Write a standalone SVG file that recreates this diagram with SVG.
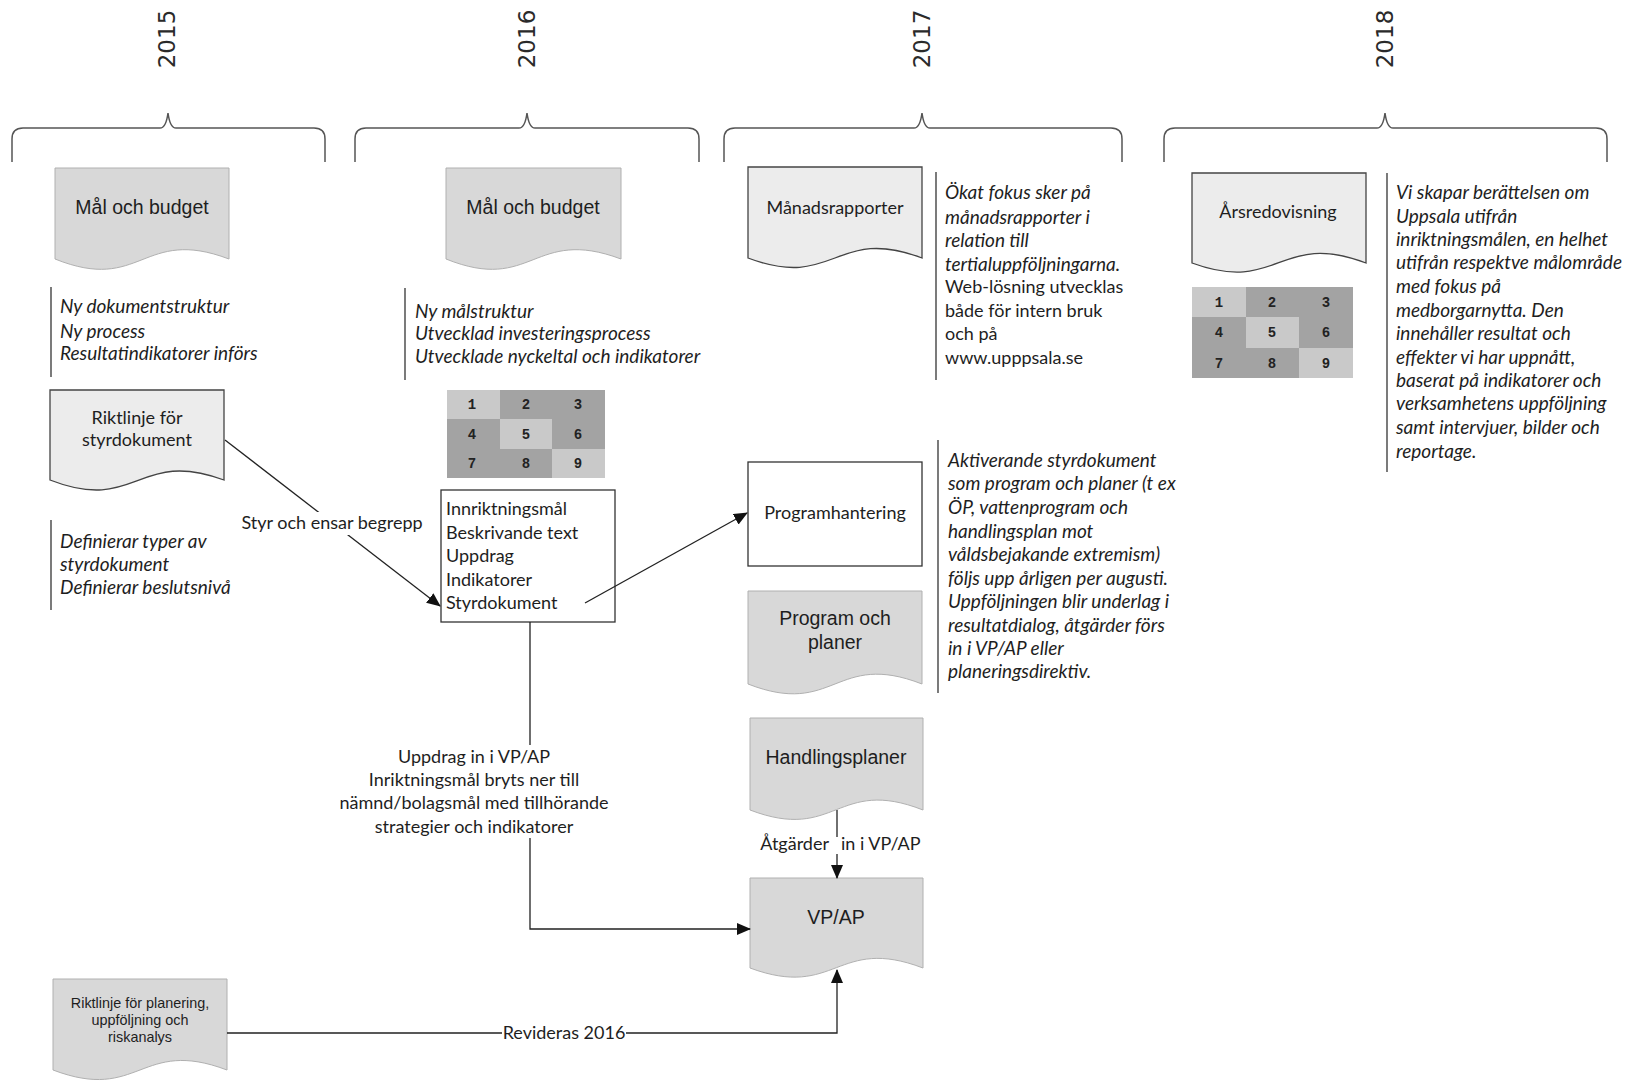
<svg xmlns="http://www.w3.org/2000/svg" width="1628" height="1084" viewBox="0 0 1628 1084">
<style>
.yr{font-family:"DejaVu Sans","Liberation Sans",sans-serif;font-size:23px;fill:#2a2a2a;text-anchor:middle}
.cal{font-family:Lato,"Liberation Sans",sans-serif;font-size:18px;fill:#1e1e1e}
.it{font-style:italic;font-size:19px}
.mid{text-anchor:middle}
.ar{font-family:"Liberation Sans",Arial,sans-serif;font-size:19.5px;fill:#1e1e1e;text-anchor:middle}
.ars{font-family:"Liberation Sans",Arial,sans-serif;font-size:14.4px;fill:#1e1e1e;text-anchor:middle}
.num{font-family:"Liberation Mono",monospace;font-weight:bold;font-size:14px;fill:#222;text-anchor:middle}
.brace{fill:none;stroke:#555;stroke-width:1.5}
.docg{fill:#d8d8d8;stroke:#b0b0b0;stroke-width:1}
.docl{fill:#ececec;stroke:#444;stroke-width:1.3}
.box{fill:#fff;stroke:#333;stroke-width:1.3}
.rule{stroke:#333;stroke-width:1.3}
.conn{fill:none;stroke:#222;stroke-width:1.3}
.bg{fill:#fff}
.lt{fill:#c9c9c9}
.dk{fill:#a3a3a3}
</style>
<defs>
<marker id="arr" markerWidth="14" markerHeight="12" refX="13" refY="6" orient="auto" markerUnits="userSpaceOnUse">
<path d="M0,0 L14,6 L0,12 Z" fill="#111"/>
</marker>
</defs>
<rect width="1628" height="1084" fill="#fff"/>

<g id="years">
<text class="yr" transform="translate(167,39) rotate(-90)" y="8">2015</text>
<text class="yr" transform="translate(527,39) rotate(-90)" y="8">2016</text>
<text class="yr" transform="translate(922,39) rotate(-90)" y="8">2017</text>
<text class="yr" transform="translate(1385,39) rotate(-90)" y="8">2018</text>
</g>

<g id="braces">
<path class="brace" d="M12,162 V139 Q12,128 23,128 H160 Q166,128 168,113 Q170,128 176,128 H314 Q325,128 325,139 V162"/>
<path class="brace" d="M355,162 V139 Q355,128 366,128 H519 Q525,128 527,113 Q529,128 535,128 H688 Q699,128 699,139 V162"/>
<path class="brace" d="M724,162 V139 Q724,128 735,128 H914 Q920,128 922,113 Q924,128 930,128 H1111 Q1122,128 1122,139 V162"/>
<path class="brace" d="M1164,162 V139 Q1164,128 1175,128 H1377 Q1383,128 1385,113 Q1387,128 1393,128 H1596 Q1607,128 1607,139 V162"/>
</g>

<g id="mal-budget-2015">
<path class="docg" d="M55,168 H229 V259 C142,226 142,294 55,259 Z"/>
<text class="ar" x="142" y="214">Mål och budget</text>
</g>

<g id="notes-2015a">
<line class="rule" x1="51" y1="287" x2="51" y2="377"/>
<text class="cal it" x="60" y="313">Ny dokumentstruktur</text>
<text class="cal it" x="60" y="338">Ny process</text>
<text class="cal it" x="60" y="360">Resultatindikatorer införs</text>
</g>

<g id="riktlinje-styrdokument">
<path class="docl" d="M50,390 H224 V480 C137,448 137,514 50,480 Z"/>
<text class="cal mid" x="137" y="424">Riktlinje för</text>
<text class="cal mid" x="137" y="446">styrdokument</text>
</g>

<g id="notes-2015b">
<line class="rule" x1="51" y1="520" x2="51" y2="610"/>
<text class="cal it" x="60" y="548">Definierar typer av</text>
<text class="cal it" x="60" y="571">styrdokument</text>
<text class="cal it" x="60" y="594">Definierar beslutsnivå</text>
</g>

<g id="riktlinje-planering">
<path class="docg" d="M53,979 H227 V1070 C140,1037 140,1103 53,1070 Z"/>
<text class="ars" x="140" y="1008">Riktlinje för planering,</text>
<text class="ars" x="140" y="1025">uppföljning och</text>
<text class="ars" x="140" y="1042">riskanalys</text>
</g>

<g id="mal-budget-2016">
<path class="docg" d="M446,168 H621 V259 C533,226 533,294 446,259 Z"/>
<text class="ar" x="533" y="214">Mål och budget</text>
</g>

<g id="notes-2016">
<line class="rule" x1="405" y1="288" x2="405" y2="380"/>
<text class="cal it" x="415" y="318">Ny målstruktur</text>
<text class="cal it" x="415" y="340">Utvecklad investeringsprocess</text>
<text class="cal it" x="415" y="363">Utvecklade nyckeltal och indikatorer</text>
</g>

<g id="grid-2016">
<rect class="lt" x="447" y="390" width="53" height="29"/>
<rect class="dk" x="500" y="390" width="52" height="29"/>
<rect class="dk" x="552" y="390" width="53" height="29"/>
<rect class="dk" x="447" y="419" width="53" height="30"/>
<rect class="lt" x="500" y="419" width="52" height="30"/>
<rect class="dk" x="552" y="419" width="53" height="30"/>
<rect class="dk" x="447" y="449" width="53" height="29"/>
<rect class="dk" x="500" y="449" width="52" height="29"/>
<rect class="lt" x="552" y="449" width="53" height="29"/>
<text class="num" x="472" y="409">1</text>
<text class="num" x="526" y="409">2</text>
<text class="num" x="578" y="409">3</text>
<text class="num" x="472" y="439">4</text>
<text class="num" x="526" y="439">5</text>
<text class="num" x="578" y="439">6</text>
<text class="num" x="472" y="468">7</text>
<text class="num" x="526" y="468">8</text>
<text class="num" x="578" y="468">9</text>
</g>

<g id="innehall-2016">
<rect class="box" x="441" y="490" width="174" height="132"/>
<text class="cal" x="446" y="515">Innriktningsmål</text>
<text class="cal" x="446" y="539">Beskrivande text</text>
<text class="cal" x="446" y="562">Uppdrag</text>
<text class="cal" x="446" y="586">Indikatorer</text>
<text class="cal" x="446" y="609">Styrdokument</text>
</g>

<g id="manadsrapporter">
<path class="docl" d="M748,167 H922 V258 C835,225 835,291 748,258 Z"/>
<text class="cal mid" x="835" y="214">Månadsrapporter</text>
</g>

<g id="notes-2017a">
<line class="rule" x1="936" y1="172" x2="936" y2="380"/>
<text class="cal it" x="945" y="199">Ökat fokus sker på</text>
<text class="cal it" x="945" y="224">månadsrapporter i</text>
<text class="cal it" x="945" y="247">relation till</text>
<text class="cal it" x="945" y="271">tertialuppföljningarna.</text>
<text class="cal" x="945" y="293">Web-lösning utvecklas</text>
<text class="cal" x="945" y="317">både för intern bruk</text>
<text class="cal" x="945" y="340">och på</text>
<text class="cal" x="945" y="364">www.upppsala.se</text>
</g>

<g id="programhantering">
<rect class="box" x="748" y="462" width="174" height="104"/>
<text class="cal mid" x="835" y="519">Programhantering</text>
</g>

<g id="notes-2017b">
<line class="rule" x1="938" y1="440" x2="938" y2="693"/>
<text class="cal it" x="948" y="467">Aktiverande styrdokument</text>
<text class="cal it" x="948" y="490">som program och planer (t ex</text>
<text class="cal it" x="948" y="514">ÖP, vattenprogram och</text>
<text class="cal it" x="948" y="538">handlingsplan mot</text>
<text class="cal it" x="948" y="561">våldsbejakande extremism)</text>
<text class="cal it" x="948" y="585">följs upp årligen per augusti.</text>
<text class="cal it" x="948" y="608">Uppföljningen blir underlag i</text>
<text class="cal it" x="948" y="632">resultatdialog, åtgärder förs</text>
<text class="cal it" x="948" y="655">in i VP/AP eller</text>
<text class="cal it" x="948" y="678">planeringsdirektiv.</text>
</g>

<g id="program-och-planer">
<path class="docg" d="M748,591 H922 V684 C835,650 835,718 748,684 Z"/>
<text class="ar" x="835" y="625">Program och</text>
<text class="ar" x="835" y="649">planer</text>
</g>

<g id="handlingsplaner">
<path class="docg" d="M750,718 H923 V810 C836.5,776 836.5,843 750,810 Z"/>
<text class="ar" x="836" y="764">Handlingsplaner</text>
</g>

<g id="vpap">
<path class="docg" d="M750,878 H923 V968 C836.5,935 836.5,1000 750,968 Z"/>
<text class="ar" x="836" y="924">VP/AP</text>
</g>

<g id="arsredovisning">
<path class="docl" d="M1192,173 H1366 V263 C1279,230 1279,295 1192,263 Z"/>
<text class="cal mid" x="1278" y="218">Årsredovisning</text>
</g>

<g id="grid-2018">
<rect class="lt" x="1192" y="287" width="54" height="30"/>
<rect class="dk" x="1246" y="287" width="53" height="30"/>
<rect class="dk" x="1299" y="287" width="54" height="30"/>
<rect class="dk" x="1192" y="317" width="54" height="31"/>
<rect class="lt" x="1246" y="317" width="53" height="31"/>
<rect class="dk" x="1299" y="317" width="54" height="31"/>
<rect class="dk" x="1192" y="348" width="54" height="30"/>
<rect class="dk" x="1246" y="348" width="53" height="30"/>
<rect class="lt" x="1299" y="348" width="54" height="30"/>
<text class="num" x="1219" y="307">1</text>
<text class="num" x="1272" y="307">2</text>
<text class="num" x="1326" y="307">3</text>
<text class="num" x="1219" y="337">4</text>
<text class="num" x="1272" y="337">5</text>
<text class="num" x="1326" y="337">6</text>
<text class="num" x="1219" y="368">7</text>
<text class="num" x="1272" y="368">8</text>
<text class="num" x="1326" y="368">9</text>
</g>

<g id="notes-2018">
<line class="rule" x1="1387" y1="173" x2="1387" y2="472"/>
<text class="cal it" x="1396" y="199">Vi skapar berättelsen om</text>
<text class="cal it" x="1396" y="223">Uppsala utifrån</text>
<text class="cal it" x="1396" y="246">inriktningsmålen, en helhet</text>
<text class="cal it" x="1396" y="269">utifrån respektve målområde</text>
<text class="cal it" x="1396" y="293">med fokus på</text>
<text class="cal it" x="1396" y="317">medborgarnytta. Den</text>
<text class="cal it" x="1396" y="340">innehåller resultat och</text>
<text class="cal it" x="1396" y="364">effekter vi har uppnått,</text>
<text class="cal it" x="1396" y="387">baserat på indikatorer och</text>
<text class="cal it" x="1396" y="410">verksamhetens uppföljning</text>
<text class="cal it" x="1396" y="434">samt intervjuer, bilder och</text>
<text class="cal it" x="1396" y="458">reportage.</text>
</g>

<g id="connectors">
<line class="conn" x1="225" y1="440" x2="440" y2="606" marker-end="url(#arr)"/>
<rect class="bg" x="238" y="512" width="188" height="23"/>
<text class="cal mid" x="332" y="529">Styr och ensar begrepp</text>

<line class="conn" x1="585" y1="603" x2="747" y2="513" marker-end="url(#arr)"/>

<polyline class="conn" points="530,622 530,929 750,929" marker-end="url(#arr)"/>
<rect class="bg" x="330" y="745" width="288" height="93"/>
<text class="cal mid" x="474" y="763">Uppdrag in i VP/AP</text>
<text class="cal mid" x="474" y="786">Inriktningsmål bryts ner till</text>
<text class="cal mid" x="474" y="809">nämnd/bolagsmål med tillhörande</text>
<text class="cal mid" x="474" y="833">strategier och indikatorer</text>

<line class="conn" x1="837" y1="810" x2="837" y2="878" marker-end="url(#arr)"/>
<rect class="bg" x="755" y="837" width="166" height="17"/>
<text class="cal" y="850"><tspan x="829" text-anchor="end">Åtgärder</tspan><tspan x="841">in i VP/AP</tspan></text>

<polyline class="conn" points="227,1033 837,1033 837,970" marker-end="url(#arr)"/>
<rect class="bg" x="502" y="1023" width="124" height="20"/>
<text class="cal mid" x="564" y="1039">Revideras 2016</text>
</g>
</svg>
